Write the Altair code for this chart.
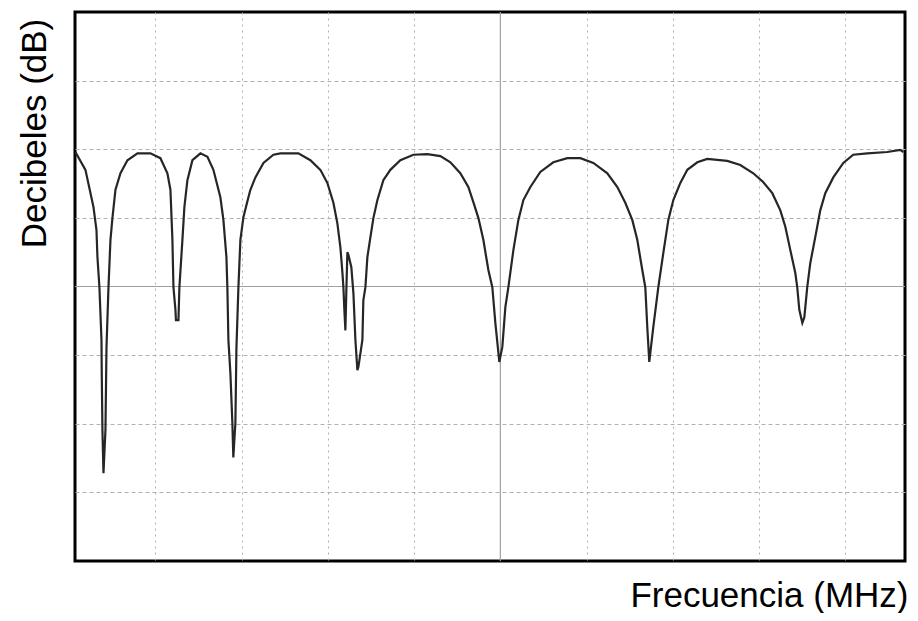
import altair as alt
import pandas as pd

# Frequency (MHz, arbitrary scale: grid every 10) and level (dB, grid every 10)
freq = [0.75, 1.91, 2.84, 3.19, 3.30, 3.53, 3.77, 3.80, 3.88, 4.00, 4.23, 4.35, 4.58, 4.81, 5.04,
        5.39, 5.97, 6.78, 7.94, 9.44, 10.60, 11.41, 11.76, 11.99, 12.11, 12.34, 12.40, 12.69, 12.80,
        13.15, 13.38, 13.73, 14.31, 15.24, 16.05, 16.74, 17.55, 17.90, 18.25, 18.36, 18.48, 18.71,
        18.94, 19.05, 19.29, 19.41, 19.64, 19.87, 20.22, 20.80, 21.03, 21.61, 22.54, 23.70, 24.51,
        26.59, 27.98, 29.14, 29.95, 30.65, 31.11, 31.46, 31.69, 31.81, 31.92, 32.04, 32.16, 32.27,
        32.39, 32.73, 32.97, 33.20, 33.43, 33.55, 34.01, 34.12, 34.36, 34.59, 34.94, 35.29, 35.75,
        36.44, 37.25, 38.41, 39.92, 41.54, 43.05, 44.21, 45.36, 46.29, 46.87, 47.45, 48.03, 48.61,
        49.07, 49.42, 49.88, 50.23, 50.58, 50.93, 51.51, 52.09, 52.67, 53.48, 54.63, 56.14, 57.76,
        59.27, 60.78, 62.40, 63.56, 64.48, 65.29, 65.87, 66.45, 66.80, 67.03, 67.26, 67.73, 68.31,
        68.89, 69.47, 70.05, 70.86, 71.67, 72.83, 73.98, 76.30, 77.81, 79.32, 80.48, 81.52, 82.45,
        83.03, 83.61, 84.18, 84.41, 84.65, 85.00, 85.23, 85.57, 85.92, 86.50, 87.08, 87.66, 88.59,
        89.75, 90.90, 92.53, 94.84, 96.35, 96.70]
level = [-20.4, -23.0, -28.4, -31.8, -35.7, -40.1, -47.8, -52.6, -60.9, -67.2, -60.9, -48.8, -40.1, -33.2, -30.0,
         -25.9, -23.5, -21.6, -20.6, -20.6, -21.3, -23.5, -25.9, -33.2, -40.1, -43.4, -44.9, -44.9, -40.1,
         -33.2, -28.4, -24.5, -21.6, -20.6, -21.1, -23.0, -27.0, -30.3, -35.7, -40.1, -47.8, -52.6,
         -59.9, -64.9, -59.9, -49.0, -40.1, -33.2, -29.9, -27.0, -25.9, -24.1, -22.0, -20.8, -20.6,
         -20.6, -21.6, -23.0, -24.9, -27.8, -30.8, -34.3, -37.9, -40.1, -43.4, -46.4, -40.1, -35.0,
         -35.4, -37.2, -41.0, -47.8, -52.2, -51.7, -47.8, -42.0, -40.1, -35.7, -32.8, -30.0, -27.4,
         -24.5, -23.0, -21.6, -20.8, -20.7, -21.0, -21.9, -23.5, -25.5, -27.7, -30.0, -33.2, -37.6,
         -40.1, -45.3, -51.0, -48.8, -43.0, -40.1, -34.7, -30.3, -27.4, -25.5, -23.3, -21.9, -21.3,
         -21.3, -22.0, -23.5, -25.5, -27.8, -30.3, -33.2, -37.6, -40.1, -45.9, -51.0, -45.9, -40.1,
         -35.1, -30.3, -27.4, -24.9, -23.0, -21.9, -21.4, -21.7, -22.3, -23.5, -24.8, -26.4, -28.9,
         -31.3, -34.7, -38.0, -40.1, -43.4, -45.3, -44.5, -40.1, -36.6, -32.8, -28.9, -26.4, -24.1,
         -22.0, -20.8, -20.6, -20.4, -20.1, -20.4]

x_grid = [10, 20, 30, 40, 60, 70, 80, 90]
y_grid = [-70, -60, -50, -30, -20, -10]
center_freq = [50]
center_db = [-40]

x_domain = [0.7, 96.9]
y_domain = [-80, 0]

df = pd.DataFrame({"f": freq, "db": level})

xs = alt.Scale(domain=x_domain, nice=False, zero=False)
ys = alt.Scale(domain=y_domain, nice=False, zero=False)

FONT = "Liberation Sans"
FS = 35

x_axis = alt.Axis(
    title="Frecuencia (MHz)", values=x_grid, labels=False, ticks=False, domain=False,
    grid=True, gridColor="#b0b0b0", gridDash=[2, 4], gridWidth=1,
    titleFont=FONT, titleFontSize=FS, titleFontWeight="normal", titleColor="black",
    titleAlign="right", titleAnchor="end", titleBaseline="alphabetic",
    titleX=833, titleY=45,
)
y_axis = alt.Axis(
    title="Decibeles (dB)", values=y_grid, labels=False, ticks=False, domain=False,
    grid=True, gridColor="#b0b0b0", gridDash=[4, 3], gridWidth=1,
    titleFont=FONT, titleFontSize=FS, titleFontWeight="normal", titleColor="black",
    titleAngle=-90, titleAlign="center", titleBaseline="middle",
    titleX=-41, titleY=121,
)

line = alt.Chart(df).mark_line(color="#262626", strokeWidth=2.2, clip=True).encode(
    x=alt.X("f:Q", scale=xs, axis=x_axis),
    y=alt.Y("db:Q", scale=ys, axis=y_axis),
)

vrule = alt.Chart(pd.DataFrame({"f": center_freq})).mark_rule(color="#a0a0a0", strokeWidth=1.2).encode(
    x=alt.X("f:Q", scale=xs)
)
hrule = alt.Chart(pd.DataFrame({"db": center_db})).mark_rule(color="#a0a0a0", strokeWidth=1.2).encode(
    y=alt.Y("db:Q", scale=ys)
)

chart = alt.layer(vrule, hrule, line).properties(
    width=830, height=549,
    background="white",
    autosize=alt.AutoSizeParams(type="none"),
    padding={"left": 67, "top": 4, "right": 5, "bottom": 52},
).configure_view(
    stroke="black", strokeWidth=3, fill="white"
)

chart.save("out.html", embed_options={"renderer": "svg", "actions": False})
